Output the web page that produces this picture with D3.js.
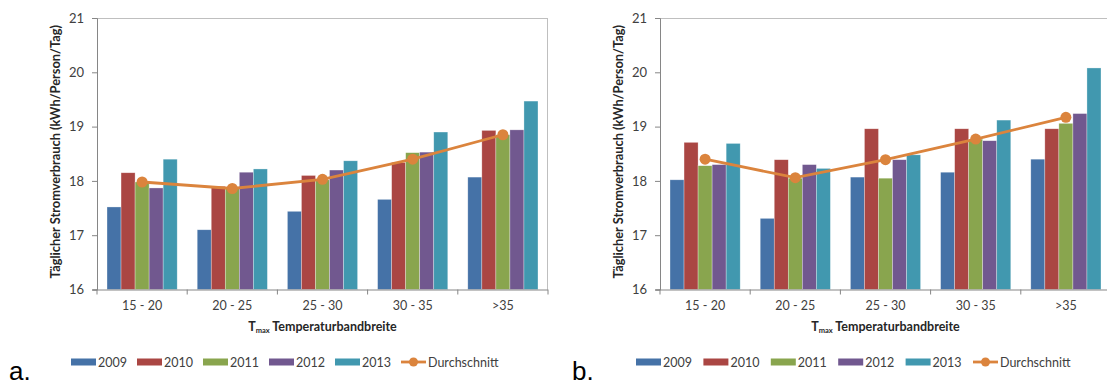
<!DOCTYPE html>
<html><head><meta charset="utf-8">
<script src="https://cdn.jsdelivr.net/npm/d3@7/dist/d3.min.js"></script>
<style>body{margin:0;background:#fff}svg{display:block}</style>
</head><body>
<svg id="c" width="1107" height="385"></svg>
<script>
const categories = ["15 - 20","20 - 25","25 - 30","30 - 35",">35"];
const years = ["2009","2010","2011","2012","2013"];
const yTicks = [16,17,18,19,20,21];
// Panel a
const a2009 = [17.52,17.10,17.44,17.66,18.07];
const a2010 = [18.15,17.90,18.10,18.34,18.93];
const a2011 = [17.98,17.88,18.02,18.52,18.85];
const a2012 = [17.87,18.16,18.20,18.53,18.94];
const a2013 = [18.40,18.22,18.37,18.90,19.47];
const aAvg  = [17.98,17.86,18.03,18.40,18.85];
// Panel b
const b2009 = [18.02,17.31,18.07,18.16,18.40];
const b2010 = [18.71,18.39,18.96,18.96,18.96];
const b2011 = [18.28,18.05,18.05,18.77,19.06];
const b2012 = [18.30,18.30,18.39,18.74,19.24];
const b2013 = [18.69,18.23,18.48,19.12,20.08];
const bAvg  = [18.40,18.06,18.39,18.77,19.17];

const colors = ["#4572A7","#AA4643","#89A54E","#71588F","#4198AF"];
const avgColor = "#DB843D";
const font = "Lato, 'Liberation Sans', sans-serif";
const svg = d3.select("#c");

function panel(ox, letter, series, avg, legendX, legendStep){
  const left = ox, right = ox + 451, top = 18, bottom = 289.5;
  const g = svg.append("g");
  const x0 = d3.scaleBand().domain(categories).range([left,right]).paddingInner(0.222).paddingOuter(0.111);
  const x1 = d3.scaleBand().domain(years).range([0,x0.bandwidth()]);
  const y = d3.scaleLinear().domain([16,21]).range([bottom,top]);
  const xStep = d3.scaleBand().domain(categories).range([left,right]);

  // border
  g.append("line").attr("x1",left).attr("x2",right).attr("y1",top+0.5).attr("y2",top+0.5).attr("stroke","#bfbfbf");
  g.append("line").attr("x1",right-0.5).attr("x2",right-0.5).attr("y1",top).attr("y2",bottom).attr("stroke","#bfbfbf");

  // bars
  years.forEach((yr,i)=>{
    g.selectAll(null).data(series[i]).enter().append("rect")
      .attr("x",(d,j)=>x0(categories[j])+x1(yr))
      .attr("y",d=>y(d))
      .attr("width",x1.bandwidth())
      .attr("height",d=>bottom-y(d))
      .attr("fill",colors[i])
      .attr("stroke","rgba(255,255,255,0.5)").attr("stroke-width",0.6);
  });

  // y axis
  const ya = g.append("g").attr("transform",`translate(${left},0)`)
    .call(d3.axisLeft(y).tickValues(yTicks).tickSize(5).tickPadding(8).tickFormat(d3.format("d")));
  ya.select(".domain").attr("stroke","#868686");
  ya.selectAll(".tick line").attr("stroke","#868686");
  ya.selectAll("text").attr("font-family",font).attr("font-size",13).attr("fill","#404040");

  // x axis
  const xa = g.append("g").attr("transform",`translate(0,${bottom})`)
    .call(d3.axisBottom(xStep).tickSize(0).tickPadding(12));
  xa.select(".domain").attr("stroke","#868686").attr("d",`M${left-4},0.5H${right}`);
  xa.selectAll("text").attr("font-family",font).attr("font-size",12.5).attr("fill","#404040");
  xa.selectAll(null).data(categories.concat(["end"])).enter().append("line")
    .attr("x1",(d,j)=>left + j*xStep.step()).attr("x2",(d,j)=>left + j*xStep.step())
    .attr("y1",0).attr("y2",5).attr("stroke","#868686");

  // avg line
  const line = d3.line().x((d,j)=>x0(categories[j])+x0.bandwidth()/2).y(d=>y(d));
  g.append("path").datum(avg).attr("d",line).attr("fill","none").attr("stroke",avgColor).attr("stroke-width",2.8);
  g.selectAll(null).data(avg).enter().append("circle")
    .attr("cx",(d,j)=>x0(categories[j])+x0.bandwidth()/2).attr("cy",d=>y(d)).attr("r",5.5).attr("fill",avgColor);

  // titles
  g.append("text").attr("transform",`translate(${left-37},${(top+bottom)/2-2}) rotate(-90)`)
    .attr("text-anchor","middle").attr("font-family",font).attr("font-weight","bold").attr("font-size",12.8).attr("fill","#262626")
    .text("Täglicher Stromverbrauch (kWh/Person/Tag)");
  const xt = g.append("text").attr("x",(left+right)/2).attr("y",331).attr("text-anchor","middle")
    .attr("font-family",font).attr("font-weight","bold").attr("font-size",12.5).attr("fill","#262626");
  xt.append("tspan").text("T");
  xt.append("tspan").attr("font-size",7.5).attr("dy",2).text("max");
  xt.append("tspan").attr("dy",-2).text(" Temperaturbandbreite");

  // legend
  const ly = 362;
  years.forEach((yr,i)=>{
    const lx = legendX + i*legendStep;
    g.append("rect").attr("x",lx).attr("y",ly-3.5).attr("width",25).attr("height",7).attr("fill",colors[i]);
    g.append("text").attr("x",lx+27).attr("y",ly+4.5).attr("font-family",font).attr("font-size",12.5).attr("fill","#404040").text(yr);
  });
  const dx = legendX + 5*legendStep;
  g.append("line").attr("x1",dx).attr("x2",dx+25).attr("y1",ly).attr("y2",ly).attr("stroke",avgColor).attr("stroke-width",2.8);
  g.append("circle").attr("cx",dx+12.5).attr("cy",ly).attr("r",4.5).attr("fill",avgColor);
  g.append("text").attr("x",dx+27).attr("y",ly+4.5).attr("font-family",font).attr("font-size",12.5).attr("fill","#404040").text("Durchschnitt");

  // panel letter
  g.append("text").attr("x",ox-97+9).attr("y",380).attr("font-family","'Liberation Sans', Arial, sans-serif").attr("font-size",26).attr("fill","#000").text(letter);
}

panel(97,"a.",[a2009,a2010,a2011,a2012,a2013],aAvg,71,66);
panel(660,"b.",[b2009,b2010,b2011,b2012,b2013],bAvg,636,67.4);
</script>
</body></html>
